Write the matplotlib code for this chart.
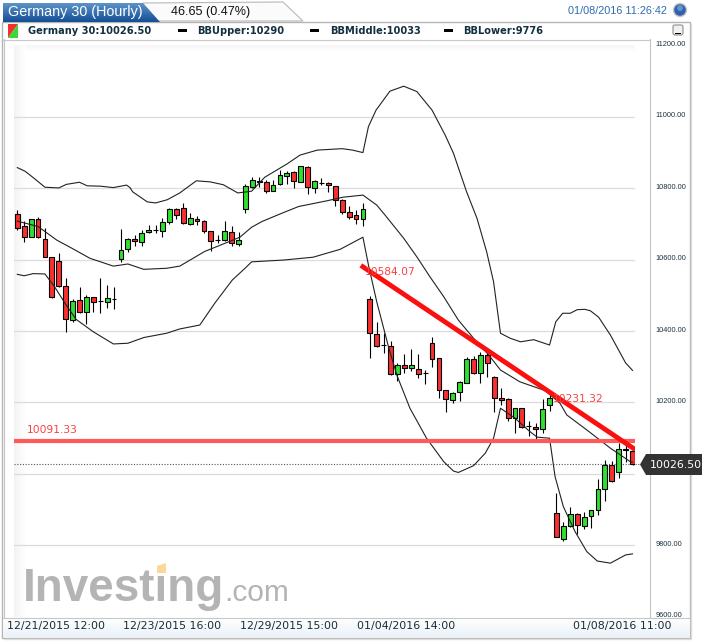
import matplotlib
matplotlib.use('Agg')
import matplotlib.pyplot as plt
from matplotlib.patches import Polygon, Rectangle, Circle, FancyBboxPatch
from matplotlib.transforms import ScaledTranslation
import numpy as np

# candles, hourly, one per index
opens = [10727,10693,10664,10713,10659,10607,10595,10527,10430,10486,
         10454,10495,10483,10482,10491,10603,10629,10657,10650,10677,
         10682,10681,10707,10741,10744,10701,10713,10708,10680,10654,
         10654,10677,10643,10741,10803,10821,10817,10793,10811,10834,
         10845,10819,10860,10800,10815,10814,10806,10766,10735,10726,
         10713,10489,10391,10361,10359,10279,10306,10296,10295,10282,
         10366,10326,10234,10206,10229,10256,10323,10284,10332,10272,
         10214,10209,10156,10184,10133,10130,10126,10192,9890,9817,
         9853,9887,9853,9881,9898,9957,10026,10004,10071,10065]
closes = [10690,10664,10713,10663,10607,10496,10527,10433,10485,10454,
          10495,10482,10483,10492,10491,10626,10657,10651,10674,10682,
          10682,10705,10741,10726,10704,10716,10708,10679,10651,10654,
          10680,10646,10654,10806,10822,10817,10793,10808,10836,10842,
          10820,10862,10803,10821,10815,10808,10767,10735,10721,10713,
          10743,10394,10357,10361,10279,10304,10296,10306,10279,10282,
          10321,10234,10209,10228,10258,10321,10282,10334,10310,10214,
          10206,10156,10184,10130,10133,10126,10181,10214,9822,9854,
          9887,9856,9880,9898,9959,10024,9979,10071,10066,10027]
highs = [10739,10708,10713,10720,10688,10607,10618,10548,10489,10524,
         10501,10495,10548,10528,10523,10685,10660,10669,10683,10697,
         10696,10718,10744,10744,10760,10730,10722,10711,10680,10668,
         10708,10693,10678,10811,10831,10831,10823,10823,10851,10849,
         10849,10862,10863,10823,10829,10817,10807,10771,10750,10739,
         10758,10498,10425,10394,10373,10310,10336,10349,10336,10291,
         10383,10326,10234,10230,10260,10328,10330,10341,10338,10275,
         10240,10214,10184,10184,10149,10142,10209,10221,9947,9864,
         9906,9890,9892,9898,9985,10039,10037,10086,10086,10072]
lows = [10683,10650,10664,10660,10607,10492,10523,10398,10426,10452,
        10420,10453,10450,10466,10461,10594,10622,10639,10638,10674,
        10676,10664,10699,10713,10700,10696,10697,10674,10625,10646,
        10651,10637,10638,10732,10800,10803,10786,10792,10809,10812,
        10800,10817,10784,10788,10808,10789,10750,10728,10713,10700,
        10695,10326,10356,10338,10277,10261,10284,10288,10268,10251,
        10299,10214,10174,10198,10205,10256,10280,10256,10272,10174,
        10193,10148,10115,10129,10106,10095,10115,10177,9822,9813,
        9852,9833,9845,9849,9886,9924,9977,9989,10034,10025]

# bollinger bands, read at the bends
upper_x = [0,1.1,2.3,4,6,7.1,9,10.1,12,13.9,15.8,16.3,16.7,18.8,20,21.7,23.5,25.9,27.9,29.8,31.9,33.9,35.8,39,40.9,43.4,47,48.5,50,
           50.8,51.9,53.9,55.9,57.8,60,61.9,63.1,65,66.5,67.9,68.9,69.9,71.3,72.8,74.7,77,77.9,78.9,80,81,82.1,82.9,84.1,85.8,88,89]
upper_y = [10858,10848,10830,10803,10801,10811,10817,10807,10806,10802,10809,10802,10790,10762,10759,10768,10787,10821,10818,10810,10787,10792,10831,10868,10893,10907,10911,10907,10900,
           10973,11019,11072,11086,11071,11019,10949,10898,10790,10716,10622,10538,10394,10380,10370,10376,10361,10426,10450,10450,10460,10461,10457,10439,10389,10311,10290]
middle_x = [0,3,5.7,7.9,10.5,13.9,16,18.3,21.6,23.5,27.1,30.3,32.2,33.9,35.4,38,40.7,44.8,47.1,50,52,53.2,55.9,57.8,59.7,61.7,63.8,66,68.2,69.9,72.7,76.4,78.5,79.5,82.4,85.8,88.7,89]
middle_y = [10708,10693,10655,10632,10604,10582,10588,10573,10576,10582,10623,10648,10663,10691,10707,10728,10749,10765,10775,10781,10753,10725,10660,10608,10552,10496,10431,10380,10333,10291,10258,10233,10198,10165,10123,10072,10034,10033]
lower_x = [0,1,2.3,4,5.4,6.9,8.5,11,13.9,16,18.3,21.6,23.5,26.4,28.6,31.1,33,33.9,38.5,42.8,46.7,50,50.8,52,53.7,54.9,56.8,59.2,61.7,63.1,63.8,66,67.7,68.9,69.9,72,74,75.2,77,77.8,79,80.7,82.4,83.9,85.8,88,89]
lower_y = [10559,10555,10561,10560,10524,10478,10433,10398,10364,10366,10382,10394,10406,10417,10479,10543,10577,10594,10599,10607,10629,10663,10585,10482,10356,10277,10184,10100,10034,10008,10004,10023,10058,10100,10184,10156,10121,10103,10100,9992,9908,9838,9782,9756,9750,9773,9776]

# drawn on the chart
support_level = 10091.33
support_text = '10091.33'
trend_x = [49.7, 89.4]
trend_y = [10584.07, 10068]
trend_text_a = '10584.07'
trend_text_b = '10231.32'
last_price = 10026.50

price_ticks = [9600,9800,10000,10200,10400,10600,10800,11000,11200]
date_ticks = [5.6,22.4,39.3,56.2,87.5]
date_labels = ['12/21/2015 12:00','12/23/2015 16:00','12/29/2015 15:00','01/04/2016 14:00','01/08/2016 11:00']

W, H = 702, 641
fig = plt.figure(figsize=(W/100, H/100), dpi=100, facecolor='white')

# page furniture in pixel coordinates
bg = fig.add_axes([0, 0, 1, 1], zorder=0)
bg.set_xlim(0, W)
bg.set_ylim(H, 0)
bg.axis('off')

def vgrad(a, x0, x1, y0, y1, c0, c1, clip=None):
    c0 = np.array(matplotlib.colors.to_rgb(c0))
    c1 = np.array(matplotlib.colors.to_rgb(c1))
    t = np.linspace(0, 1, 32)[:, None, None]
    im = a.imshow(c0 + (c1 - c0) * t, extent=[x0, x1, y1, y0], aspect='auto', zorder=2)
    if clip is not None:
        im.set_clip_path(clip)

def hgrad(a, x0, x1, y0, y1, c0, c1):
    c0 = np.array(matplotlib.colors.to_rgb(c0))
    c1 = np.array(matplotlib.colors.to_rgb(c1))
    t = np.linspace(0, 1, 32)[None, :, None]
    a.imshow(c0 + (c1 - c0) * t, extent=[x0, x1, y1, y0], aspect='auto', zorder=2)

# tabs
grey_tab = Polygon([[143,3],[283,2],[303,21],[143,21]], closed=True, fc='#fbfbfb', ec='#b8b8b8', lw=0.8, zorder=2)
bg.add_patch(grey_tab)
blue_tab = Polygon([[3,3],[143,3],[160,22],[3,22]], closed=True, fc='none', ec='none', zorder=2)
bg.add_patch(blue_tab)
vgrad(bg, 3, 160, 3, 22, '#5c93c9', '#154f95', clip=blue_tab)

# frames
bg.add_patch(Rectangle((2, 22), 688, 616, fc='white', ec='#b4b4b4', lw=1.0, zorder=1))
bg.plot([3.5, 3.5], [39, 617], color='#c4c4c4', lw=0.8, zorder=3)
bg.plot([3, 650], [39.5, 39.5], color='#c8c8c8', lw=0.8, zorder=3)
bg.plot([650, 650], [39, 617], color='#c4c4c4', lw=0.8, zorder=3)
vgrad(bg, 3, 689.5, 618, 637, '#ffffff', '#eaf2f8')
bg.plot([3, 689], [617.5, 617.5], color='#c8c8c8', lw=0.8, zorder=3)
hgrad(bg, 14, 26, 45, 617, '#f3f3f3', '#ffffff')
vgrad(bg, 26, 635, 45, 52, '#f6f6f6', '#ffffff')
bg.plot([691, 691], [24, 638], color='#dddddd', lw=1.0, zorder=3)
bg.plot([4, 691], [638.7, 638.7], color='#dddddd', lw=1.0, zorder=3)

# header text
bg.text(8, 12, 'Germany 30 (Hourly)', color='white', fontsize=10.4, family='Liberation Sans', va='center', zorder=4)
bg.text(171, 12, '46.65 (0.47%)', color='#111111', fontsize=9.1, family='Liberation Sans', va='center', zorder=4)
bg.text(667, 11.5, '01/08/2016 11:26:42', color='#2b6cb0', fontsize=7.8, family='Liberation Sans', va='center', ha='right', zorder=4)
bg.add_patch(Circle((680, 10), 6.5, fc='#2f62ad', ec='#c8c8c8', lw=1.0, zorder=4))
bg.add_patch(Circle((680, 8), 3, fc='#7fa6d8', ec='none', alpha=0.7, zorder=5))
bg.add_patch(FancyBboxPatch((673, 25), 10, 10, boxstyle='round,pad=0,rounding_size=2', fc='#f2f2f2', ec='#8d8d8d', lw=0.8, zorder=4))
bg.add_patch(Rectangle((675, 32.5), 6, 1.6, fc='black', ec='none', zorder=5))

# legend strip
bg.add_patch(Polygon([[8,24],[18,24],[8,38]], closed=True, fc='#f23030', ec='none', zorder=4))
bg.add_patch(Polygon([[18,24],[18,38],[8,38]], closed=True, fc='#38d838', ec='none', zorder=4))
legend_items = [(28, 'Germany 30:10026.50', None), (197, 'BBUpper:10290', 178), (330, 'BBMiddle:10033', 310), (463, 'BBLower:9776', 444)]
for tx, label, mark in legend_items:
    bg.text(tx, 30.5, label, color='#123040', fontsize=7.1, fontweight='bold', family='DejaVu Sans', va='center', zorder=4)
    if mark is not None:
        bg.add_patch(Rectangle((mark, 29), 9, 3, fc='black', ec='none', zorder=4))

# watermark
bg.text(23, 601, 'Investing', color='#b4b4b4', fontsize=33, fontweight='bold', family='Liberation Sans', va='baseline', zorder=4)
bg.text(224, 601, '.com', color='#b4b4b4', fontsize=21.5, family='Liberation Sans', va='baseline', zorder=4)
bg.add_patch(Polygon([[157,566],[166,563],[166,573],[157,573]], closed=True, fc='#fbd89a', ec='none', zorder=5))

# price chart
ax = fig.add_axes([14/W, 1 - 616.7/H, (635 - 14)/W, (616.7 - 45.5)/H], zorder=2)
ax.patch.set_alpha(0)
ax.set_xlim(-0.478, 89.36)
ax.set_ylim(9600, 11200)
for s in ax.spines.values():
    s.set_visible(False)

ax.yaxis.tick_right()
ax.set_yticks(price_ticks)
ax.set_yticklabels(['%.2f' % p for p in price_ticks], family='Liberation Sans', fontsize=5.3, color='#1c3340')
ax.set_xticks(date_ticks)
ax.set_xticklabels(date_labels, family='DejaVu Sans', fontsize=7.9, color='#1c2c34')
ax.tick_params(axis='both', length=0)
ax.tick_params(axis='y', pad=15)
ax.tick_params(axis='x', pad=3.3)
shift = ScaledTranslation(0, 2/100, fig.dpi_scale_trans)
for t in ax.get_yticklabels():
    t.set_transform(t.get_transform() + shift)
ax.grid(axis='y', color='#dcdcdc', lw=0.9)
ax.set_axisbelow(True)
ygrid = ax.get_ygridlines()
ygrid[0].set_visible(False)
ygrid[-1].set_visible(False)

idx = np.arange(len(opens))
body_top = np.maximum(opens, closes)
body_bot = np.minimum(opens, closes)
colors = ['#2fe02f' if c > o else '#fa3030' for o, c in zip(opens, closes)]
ax.vlines(idx, lows, highs, color='black', lw=0.8, zorder=3)
ax.bar(idx, body_top - body_bot, bottom=body_bot, width=0.7, color=colors, edgecolor='black', lw=0.8, zorder=4)

for bx, by in ((upper_x, upper_y), (middle_x, middle_y), (lower_x, lower_y)):
    ax.plot(bx, by, color='#222222', lw=0.8, zorder=5)

ax.axhline(last_price, color='#555555', lw=0.8, ls=(0, (1, 1.5)), zorder=2)
ax.plot([89.36, 90.0], [last_price, last_price], color='#555555', lw=0.8, ls=(0, (1, 1.5)), clip_on=False, zorder=2)
ax.axhline(support_level, color='#ff5a5a', lw=3.0, zorder=6)
ax.plot(trend_x, trend_y, color='#fb1010', lw=3.5, solid_capstyle='butt', zorder=7)

ax.text(1.4, support_level + 33, support_text, color='#fa4040', fontsize=7.7, family='DejaVu Sans', va='center', zorder=8)
ax.text(50.3, 10584.07 - 19, trend_text_a, color='#fa4040', fontsize=7.7, family='DejaVu Sans', va='center', zorder=8)
ax.text(77.5, 10231.32 - 22, trend_text_b, color='#fa4040', fontsize=7.7, family='DejaVu Sans', va='center', zorder=8)

# last price flag, on top of everything
top = fig.add_axes([0, 0, 1, 1], zorder=3)
top.set_xlim(0, W)
top.set_ylim(H, 0)
top.axis('off')
top.add_patch(Polygon([[640,464.5],[646,454],[702,454],[702,475],[646,475]], closed=True, fc='#333333', ec='none'))
top.text(650, 464.5, '%.2f' % last_price, color='white', fontsize=7.9, family='DejaVu Sans', va='center')

fig.savefig('out.png', dpi=100)
